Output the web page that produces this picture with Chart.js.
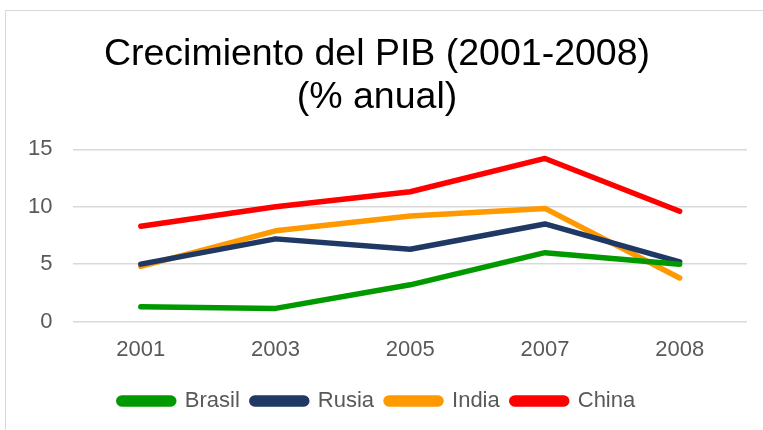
<!DOCTYPE html>
<html>
<head>
<meta charset="utf-8">
<script src="https://cdn.jsdelivr.net/npm/chart.js@4"></script>
<style>
  html, body { margin: 0; padding: 0; background: #fff; }
  #wrap { position: relative; width: 763px; height: 430px; overflow: hidden; }
  #frame { position: absolute; left: 5px; top: 10px; width: 800px; height: 500px; border: 1px solid #d9d9d9; }
  canvas { position: absolute; left: 0; top: 0; }
</style>
</head>
<body>
<div id="wrap">
  <div id="frame"></div>
  <canvas id="chart" width="763" height="430"></canvas>
</div>
<script>
// Años y crecimiento del PIB (% anual)
const years = ['2001', '2003', '2005', '2007', '2008'];
const brasil = [1.3, 1.15, 3.2, 6.0, 5.0];
const rusia = [5.0, 7.2, 6.3, 8.5, 5.2];
const india = [4.8, 7.9, 9.2, 9.85, 3.8];
const china = [8.3, 10.0, 11.3, 14.2, 9.6];
const yTicks = [0, 5, 10, 15];

const font = 'Liberation Sans, Arial, sans-serif';

function series(label, data, color) {
  return {
    label,
    data,
    borderColor: color,
    backgroundColor: color,
    borderWidth: 5.5,
    borderCapStyle: 'round',
    borderJoinStyle: 'round',
    pointRadius: 0,
    tension: 0,
  };
}

new Chart(document.getElementById('chart'), {
  type: 'line',
  data: {
    labels: years,
    datasets: [
      series('Brasil', brasil, '#009a00'),
      series('Rusia', rusia, '#203864'),
      series('India', india, '#ff9900'),
      series('China', china, '#ff0000'),
    ],
  },
  options: {
    responsive: false,
    animation: false,
    layout: { padding: { top: 10, left: 7, right: 16, bottom: 8 } },
    plugins: {
      title: {
        display: true,
        text: ['Crecimiento del PIB (2001-2008)', '(% anual)'],
        color: '#000',
        font: { family: font, size: 37.5, weight: 'normal', lineHeight: 1.15 },
        padding: { top: 23, bottom: 30 },
      },
      legend: {
        position: 'bottom',
        labels: {
          color: '#595959',
          font: { family: font, size: 22 },
          boxWidth: 55,
          boxHeight: 6,
          useBorderRadius: true,
          borderRadius: 3,
          padding: 12,
        },
      },
      tooltip: { enabled: false },
    },
    scales: {
      x: {
        offset: true,
        grid: { display: false, drawTicks: false },
        border: { display: false },
        ticks: { color: '#595959', font: { family: font, size: 22 }, padding: 15 },
      },
      y: {
        min: 0,
        max: 15,
        afterBuildTicks: (axis) => { axis.ticks = yTicks.map(v => ({ value: v })); },
        grid: { color: '#d9d9d9', lineWidth: 1.5, drawTicks: false },
        border: { display: false },
        ticks: { color: '#595959', font: { family: font, size: 22 }, padding: 21 },
      },
    },
  },
});
</script>
</body>
</html>
